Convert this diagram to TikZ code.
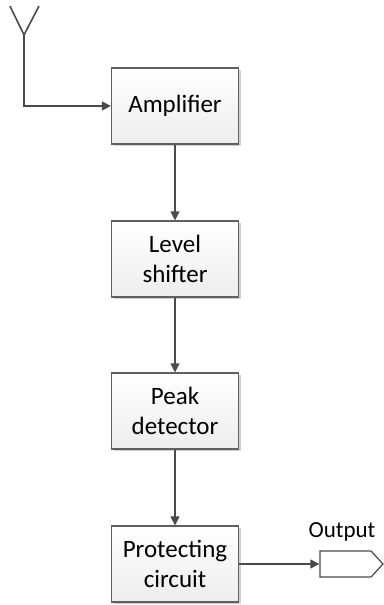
\documentclass[tikz,border=0pt]{standalone}
\usepackage{fontspec}
\setmainfont{Carlito}
\usepackage{tikz}
\usetikzlibrary{shapes,shapes.symbols,arrows.meta,positioning,shadows}

\definecolor{linegray}{HTML}{4A4A4A}
\definecolor{boxgray}{HTML}{606060}

\tikzset{
    block/.style={draw=boxgray, line width=1.2pt, top color=white, bottom color=gray!14,
        minimum width=127pt, minimum height=76pt, align=center, inner sep=0pt,
        font=\fontsize{25}{30.5}\selectfont,
        drop shadow={shadow xshift=2pt, shadow yshift=-2pt, fill=gray!35, opacity=1}},
    link/.style={draw=linegray, line width=1.2pt, -{Triangle[length=9pt,width=9pt]}},
    port/.style={draw=linegray, line width=1.2pt, fill=white, shape=signal, signal to=east,
        signal pointer angle=95, minimum width=63pt, minimum height=26pt, inner sep=0pt}
}

\begin{document}
\begin{tikzpicture}[x=1pt,y=-1pt]
    \useasboundingbox (0,0) rectangle (383,605);

    \node [block] (amp) at (175,106) {Amplifier};
    \node [block] (shift) at (175,259) {Level\\shifter};
    \node [block] (peak) at (175,411) {Peak\\detector};
    \node [block] (prot) at (175,564) {Protecting\\circuit};

    \node [port] (out) at (345.5,564) {};
    \node [font=\fontsize{23}{28}\selectfont] (outtext) at (342,532) {Output};

    % antenna
    \coordinate (ant) at (24,35);
    \draw [linegray, line width=1.6pt] (10,6) -- (ant) -- (39,6);

    \draw [link] (ant) |- (amp.west);
    \draw [link] (amp) -- (shift);
    \draw [link] (shift) -- (peak);
    \draw [link] (peak) -- (prot);
    \draw [link] (prot) -- (out);
\end{tikzpicture}
\end{document}
